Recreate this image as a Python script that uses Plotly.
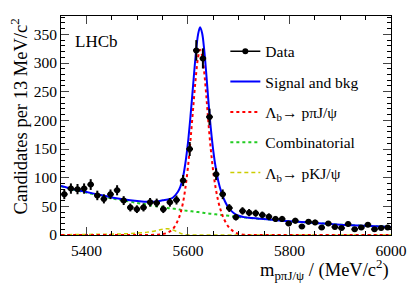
import numpy as np
import plotly.graph_objects as go

# ---- data ----
bin_centers = [5356.5 + 13 * k for k in range(50)]
counts = [71, 81, 80, 81, 88, 69, 63, 71, 78, 60,
          48, 45, 48, 57, 56, 45, 57, 61, 95, 150,
          322, 308, 206, 106, 71, 47, 31, 42, 39, 38,
          35, 32, 28, 28, 20, 25, 15, 23, 22, 13,
          20, 14, 12, 19, 10, 13, 18, 10, 12, 13]

curve_mass = [5350, 5375, 5400, 5425, 5450, 5475, 5500, 5520, 5540, 5550,
              5560, 5570, 5580, 5585, 5590, 5595, 5600, 5605, 5610, 5615,
              5620, 5624, 5628, 5632, 5636, 5640, 5645, 5650, 5655, 5660,
              5665, 5670, 5680, 5690, 5700, 5710, 5720, 5740, 5760, 5780,
              5800, 5850, 5900, 5950, 6000]
signal = [0, 0, 0, 0, 0, 0, 0, 0, 0.5, 1.5,
          4, 10, 25, 37, 55, 82, 118, 165, 218, 270,
          310, 323, 313, 285, 245, 200, 150, 110, 80, 58,
          42, 30, 14, 6, 2, 0.5, 0, 0, 0, 0,
          0, 0, 0, 0, 0]
combinatorial = [85, 79, 74, 69, 64, 60, 56, 53, 50, 49,
                 47, 46, 45, 44, 43, 42.5, 42, 41.5, 41, 40.5,
                 40, 39.5, 39, 38.5, 38, 37.5, 37, 36.5, 36, 35.5,
                 35, 34.5, 33.5, 32.5, 31.5, 30.7, 30, 28.5, 27, 25.5,
                 24, 21, 18, 16, 14]
pkjpsi = [0.5, 0.7, 1, 1.2, 1.5, 2, 3.5, 5, 8, 10,
          11, 9, 5, 3, 1.5, 0.7, 0.3, 0.1, 0, 0,
          0, 0, 0, 0, 0, 0, 0, 0, 0, 0,
          0, 0, 0, 0, 0, 0, 0, 0, 0, 0,
          0, 0, 0, 0, 0]
total = [s + c + p for s, c, p in zip(signal, combinatorial, pkjpsi)]

x_ticks = [5400, 5600, 5800, 6000]
y_ticks = [0, 50, 100, 150, 200, 250, 300, 350]

FONT = "Liberation Serif"
YELLOW = "#cccc00"
GREEN = "#22cc22"
YDASH = "4px,3px"

fig = go.Figure()

fig.add_trace(go.Scatter(x=curve_mass, y=pkjpsi, mode="lines", line_shape="spline",
                         line=dict(color=YELLOW, width=1.5, dash=YDASH),
                         showlegend=False))
fig.add_trace(go.Scatter(x=curve_mass, y=combinatorial, mode="lines", line_shape="spline",
                         line=dict(color=GREEN, width=2, dash="dot"),
                         showlegend=False))
fig.add_trace(go.Scatter(x=curve_mass, y=signal, mode="lines", line_shape="spline",
                         line=dict(color="#ff0000", width=2, dash="dot"),
                         showlegend=False))
fig.add_trace(go.Scatter(x=curve_mass, y=total, mode="lines", line_shape="spline",
                         line=dict(color="#0000ff", width=2),
                         showlegend=False))
fig.add_trace(go.Scatter(x=bin_centers, y=counts, mode="markers",
                         marker=dict(color="black", size=6),
                         error_y=dict(type="data", array=list(np.sqrt(counts)),
                                      color="black", thickness=2, width=0),
                         error_x=dict(type="constant", value=6.5,
                                      color="black", thickness=2, width=0),
                         showlegend=False))

# legend entries
leg = [
    ("Data", dict(mode="lines+markers", line=dict(color="black", width=1.5),
                  marker=dict(color="black", size=6))),
    ("Signal and bkg", dict(mode="lines", line=dict(color="#0000ff", width=2))),
    ("Λ<sub>b</sub>→ pπJ/ψ", dict(mode="lines", line=dict(color="#ff0000", width=2, dash="dot"))),
    ("Combinatorial", dict(mode="lines", line=dict(color=GREEN, width=2, dash="dot"))),
    ("Λ<sub>b</sub>→ pKJ/ψ", dict(mode="lines", line=dict(color=YELLOW, width=1.5, dash=YDASH))),
]
for i, (name, kw) in enumerate(leg):
    fig.add_trace(go.Scatter(x=[None], y=[None], name=name, legendgroup=str(i),
                             legendrank=i + 1, **kw))

# the html page body has an 8px margin, so the figure is shifted by (8, 8)
fig.update_layout(
    width=415, height=283,
    margin=dict(l=53, r=32, t=8, b=56, autoexpand=False),
    paper_bgcolor="white", plot_bgcolor="white",
    font=dict(family=FONT, size=15, color="black"),
    showlegend=True,
    legend=dict(x=0.498, y=0.915, xanchor="left", yanchor="top",
                bgcolor="rgba(0,0,0,0)", font=dict(size=15.5, family=FONT),
                tracegroupgap=7.2, itemwidth=30),
    xaxis=dict(range=[5350, 6000], tickvals=x_ticks, ticks="inside", ticklen=8,
               tickwidth=1, showline=True, linecolor="black", linewidth=1,
               mirror="ticks", showgrid=False, zeroline=False, automargin=False,
               ticklabelstandoff=1,
               minor=dict(dtick=50, tick0=5350, ticks="inside", ticklen=4,
                          tickcolor="black", showgrid=False),
               tickfont=dict(size=15.5)),
    yaxis=dict(range=[0, 382], tickvals=y_ticks, ticks="inside", ticklen=8,
               tickwidth=1, showline=True, linecolor="black", linewidth=1,
               mirror="ticks", showgrid=False, zeroline=False, automargin=False,
               minor=dict(dtick=10, ticks="inside", ticklen=4,
                          tickcolor="black", showgrid=False),
               tickfont=dict(size=15.5)),
    annotations=[
        dict(text="LHCb", x=0.035, y=0.885, xref="paper", yref="paper",
             xanchor="left", yanchor="middle", showarrow=False,
             font=dict(size=17, family=FONT)),
        dict(text="m<sub>pπJ/ψ</sub> / (MeV/c<sup>2</sup>)", x=1.0, y=-0.087,
             xref="paper", yref="paper", xanchor="right", yanchor="top",
             showarrow=False, font=dict(size=18.5, family=FONT)),
        dict(text="Candidates per 13 MeV/c<sup>2</sup>", x=-0.126, y=1.0,
             xref="paper", yref="paper", xanchor="center", yanchor="top",
             textangle=-90, showarrow=False, font=dict(size=18.5, family=FONT)),
    ],
)

fig.write_html("out.html")
